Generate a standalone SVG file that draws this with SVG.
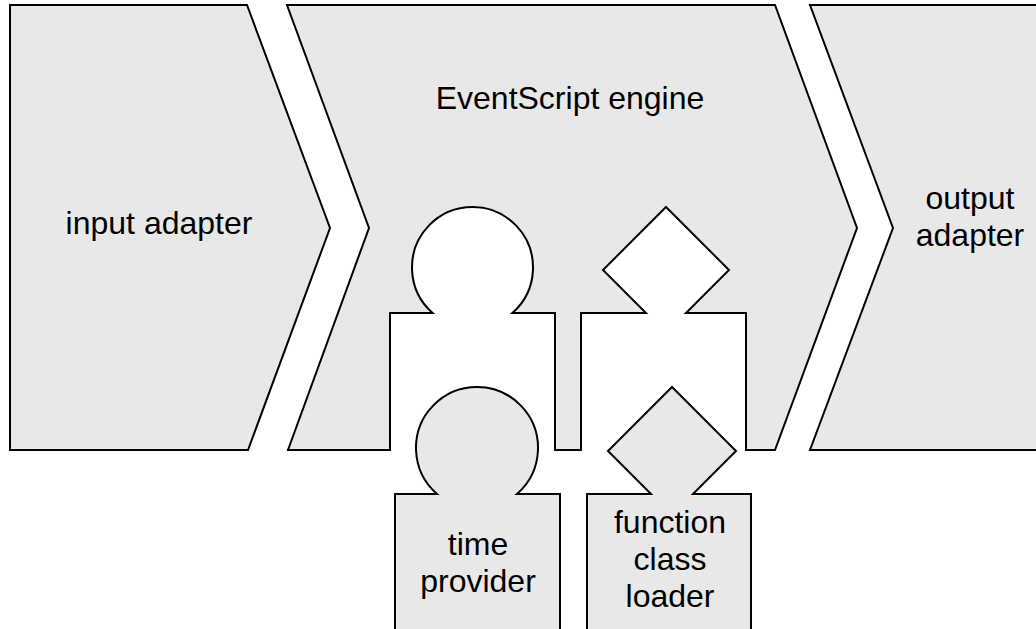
<svg xmlns="http://www.w3.org/2000/svg" width="1036" height="629" viewBox="0 0 1036 629">
  <style>
    .shape { fill: #e8e8e8; stroke: #000000; stroke-width: 2; stroke-linejoin: miter; }
    .label { font-family: "Liberation Sans", Arial, sans-serif; font-size: 32px; fill: #000000; text-anchor: middle; }
  </style>
  <rect x="0" y="0" width="1036" height="629" fill="#ffffff"/>
  <g id="input-adapter">
    <path class="shape" d="M10,5 L247,5 L330,228 L248,450 L10,450 Z"/>
    <text class="label" x="159" y="234">input adapter</text>
  </g>
  <g id="eventscript-engine">
    <path class="shape" d="M287,5 L775,5 L857,228 L775,450 L746,450 L746,313 L686,313 L729,270 L666,207 L603,270 L646,313 L581,313 L581,450 L555,450 L555,313 L512.4,313 A60.5,60.5 0 1 0 432.6,313 L390,313 L390,450 L288,450 L369,228 Z"/>
    <text class="label" x="570" y="109">EventScript engine</text>
  </g>
  <g id="output-adapter">
    <path class="shape" d="M810,5 L1045,5 L1045,450 L810,450 L893,228 Z"/>
    <text class="label" x="970" y="209">output</text>
    <text class="label" x="970" y="246">adapter</text>
  </g>
  <g id="time-provider">
    <path class="shape" d="M395,640 L395,494 L437,494 A61,61 0 1 1 517,494 L560,494 L560,640"/>
    <text class="label" x="478" y="555">time</text>
    <text class="label" x="478" y="592">provider</text>
  </g>
  <g id="function-class-loader">
    <path class="shape" d="M587,640 L587,494 L651,494 L608,451 L672,387 L736,451 L693,494 L751,494 L751,640"/>
    <text class="label" x="670" y="533">function</text>
    <text class="label" x="670" y="570">class</text>
    <text class="label" x="670" y="607">loader</text>
  </g>
  <g id="connectors"/>
</svg>
